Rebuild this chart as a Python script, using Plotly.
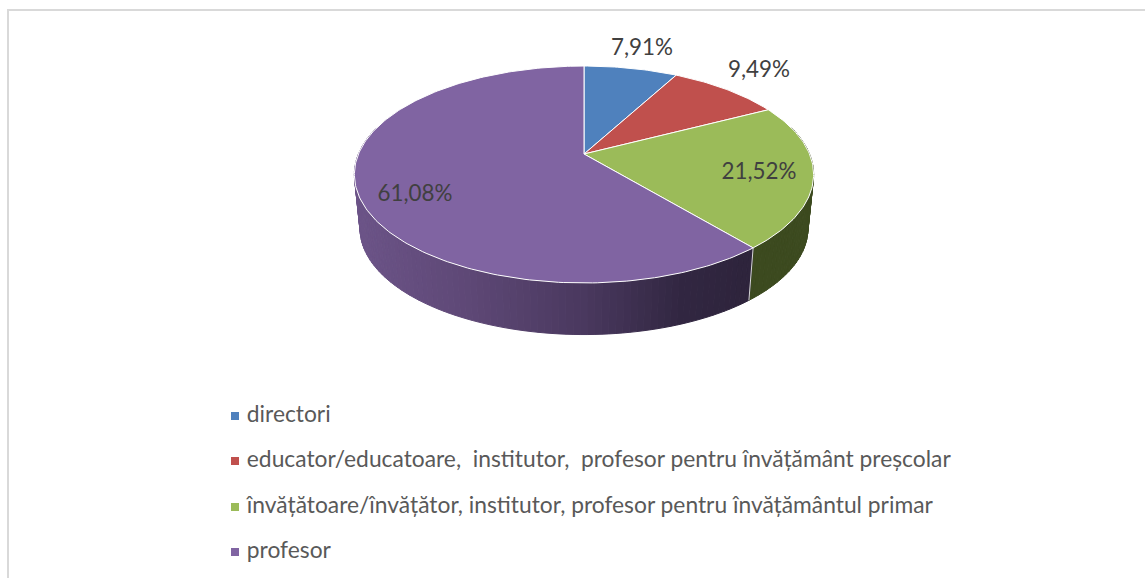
import math
import plotly.graph_objects as go

categories = ["directori",
              "educator/educatoare,\u00a0 institutor,\u00a0 profesor pentru învățământ preșcolar",
              "învățătoare/învățător, institutor, profesor pentru învățământul primar",
              "profesor"]
values = [7.91, 9.49, 21.52, 61.08]
value_labels = ["7,91%", "9,49%", "21,52%", "61,08%"]
colors = ["#4f81bd", "#c0504d", "#9bbb59", "#8064a2"]

# pixel-space layout of the drawing
CX, CY, A, B, K = 584.0, 154.0, 225.5, 104.6, 0.189
DROP, SHRINK = 54.8, 0.975
LABEL_POS = [(642, 49), (759, 71), (759, 173), (415, 195)]
LEGEND_X, LEGEND_Y = 235, [416, 461, 507, 552]
FONT = "Lato"


def top(theta):
    u, v = math.sin(theta), math.cos(theta)
    d = 1 + K * v
    return CX + A * u / d, CY - B * v / d


def bottom(theta):
    u, v = math.sin(theta), math.cos(theta)
    d = 1 + K * v
    return CX + A * SHRINK * u / d, CY + DROP - B * SHRINK * v / d


def lerp_stops(x, stops):
    if x <= stops[0][0]:
        return stops[0][1]
    for (x0, c0), (x1, c1) in zip(stops, stops[1:]):
        if x <= x1:
            t = (x - x0) / (x1 - x0)
            return tuple(c0[i] + (c1[i] - c0[i]) * t for i in range(3))
    return stops[-1][1]


side_stops = {
    2: [(748, (60, 74, 31)), (815, (60, 74, 31))],
    3: [(358, (108, 84, 136)), (470, (94, 72, 118)), (584, (74, 57, 95)),
        (680, (50, 39, 66)), (750, (46, 36, 60))],
}

fig = go.Figure()

# cumulative angles from the values
total = sum(values)
edges = [0.0]
for val in values:
    edges.append(edges[-1] + val / total * 2 * math.pi)

# side wall, slice 2 and 3 strips, clockwise from the right silhouette
for idx in (2, 3):
    a0, a1 = edges[idx], edges[idx + 1]
    n = max(2, int((a1 - a0) / math.radians(1.5)))
    for i in range(n):
        t0 = a0 + (a1 - a0) * i / n
        t1 = a0 + (a1 - a0) * (i + 1) / n
        # only the front half faces the viewer
        if math.cos((t0 + t1) / 2) > 0.25:
            continue
        p = [top(t0), top(t1), bottom(t1), bottom(t0), top(t0)]
        xm = sum(q[0] for q in p[:4]) / 4
        c = lerp_stops(xm, side_stops[idx])
        col = "rgb(%d,%d,%d)" % c
        fig.add_trace(go.Scatter(x=[q[0] for q in p], y=[q[1] for q in p], mode="lines",
                                 fill="toself", fillcolor=col, line=dict(color=col, width=1),
                                 hoverinfo="skip", showlegend=False))

# seam between green and purple on the wall
seam = edges[3]
fig.add_trace(go.Scatter(x=[top(seam)[0], bottom(seam)[0]], y=[top(seam)[1], bottom(seam)[1]],
                         mode="lines", line=dict(color="#d8d8d8", width=1),
                         hoverinfo="skip", showlegend=False))

# top slices
for idx, cat in enumerate(categories):
    a0, a1 = edges[idx], edges[idx + 1]
    n = max(8, int((a1 - a0) / math.radians(1)))
    pts = [(CX, CY)] + [top(a0 + (a1 - a0) * i / n) for i in range(n + 1)] + [(CX, CY)]
    fig.add_trace(go.Scatter(x=[q[0] for q in pts], y=[q[1] for q in pts], mode="lines",
                             fill="toself", fillcolor=colors[idx],
                             line=dict(color="#ffffff", width=1),
                             name=cat, text=value_labels[idx], hoverinfo="name+text",
                             showlegend=False))

# value labels
fig.add_trace(go.Scatter(x=[p[0] for p in LABEL_POS], y=[p[1] for p in LABEL_POS], mode="text",
                         text=value_labels, textposition="middle center",
                         textfont=dict(family=FONT, size=22.4, color="#404040"),
                         hoverinfo="skip", showlegend=False))

# legend
fig.add_trace(go.Scatter(x=[LEGEND_X] * 4, y=LEGEND_Y, mode="markers+text",
                         marker=dict(symbol="square", size=8, color=colors),
                         text=["\u00a0" + c for c in categories], textposition="middle right",
                         textfont=dict(family=FONT, size=22.8, color="#595959"),
                         hoverinfo="skip", showlegend=False, cliponaxis=False))

fig.update_layout(
    width=1145, height=578, margin=dict(l=0, r=0, t=0, b=0),
    paper_bgcolor="white", plot_bgcolor="white", showlegend=False,
    xaxis=dict(range=[0, 1145], visible=False, fixedrange=True),
    yaxis=dict(range=[578, 0], visible=False, fixedrange=True),
    shapes=[
        dict(type="line", xref="x", yref="y", x0=8, x1=8, y0=10, y1=578,
             line=dict(color="#d9d9d9", width=2)),
        dict(type="line", xref="x", yref="y", x0=7, x1=1145, y0=10, y1=10,
             line=dict(color="#d9d9d9", width=2)),
    ],
)
fig.write_html("out.html", config=dict(displayModeBar=False),
               post_script="document.body.style.margin='0';document.documentElement.style.overflow='hidden';")
